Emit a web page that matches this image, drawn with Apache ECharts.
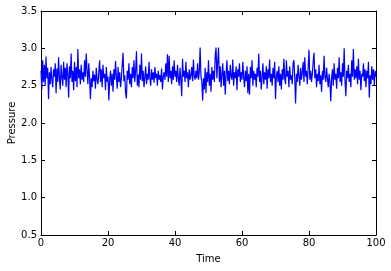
<!DOCTYPE html>
<html><head><meta charset="utf-8">
<script src="https://cdn.jsdelivr.net/npm/echarts@6/dist/echarts.min.js"></script>
<style>html,body{margin:0;padding:0;background:#fff}#c{width:391px;height:271px}</style>
</head><body><div id="c"></div>
<script>
const timeStart = 0;
const timeStep = 0.25;
const pressure = [
2.70,2.45,2.84,2.55,2.78,2.50,2.89,2.60,2.74,2.32,2.68,2.52,2.75,2.58,2.48,2.72,2.62,2.80,2.40,2.73,2.55,2.88,2.60,2.45,2.78,2.62,2.50,2.82,2.58,2.74,2.48,2.80,2.66,2.34,2.76,2.60,2.93,2.55,2.70,2.44,
2.82,2.56,2.75,2.48,2.99,2.60,2.72,2.52,2.78,2.58,2.68,2.55,2.84,2.62,2.93,2.70,2.52,2.80,2.62,2.32,2.60,2.48,2.70,2.56,2.65,2.46,2.74,2.58,2.52,2.68,2.84,2.55,2.72,2.48,2.78,2.60,2.66,2.44,2.75,2.55,
2.62,2.30,2.58,2.70,2.50,2.66,2.42,2.72,2.58,2.83,2.62,2.46,2.75,2.55,2.68,2.48,2.60,2.78,2.94,2.56,2.64,2.40,2.33,2.70,2.58,2.80,2.52,2.66,2.48,2.75,2.60,2.84,2.55,2.70,2.96,2.50,2.65,2.48,2.78,2.58,
2.93,2.56,2.70,2.48,2.62,2.76,2.52,2.66,2.58,2.82,2.60,2.50,2.72,2.58,2.68,2.54,2.75,2.60,2.66,2.50,2.70,2.58,2.64,2.55,2.73,2.45,2.62,2.68,2.58,2.80,2.62,2.92,2.55,2.90,2.60,2.70,2.52,2.76,2.58,2.84,
2.62,2.70,2.55,2.78,2.60,2.50,2.74,2.58,2.36,2.86,2.62,2.70,2.55,2.82,2.60,2.68,2.48,2.72,2.58,2.64,2.75,2.56,2.85,2.62,2.58,2.70,2.60,2.80,2.58,2.68,3.01,2.62,2.56,2.30,2.60,2.45,2.74,2.40,2.68,2.55,
2.84,2.50,2.66,2.42,2.75,2.58,2.70,2.55,2.90,3.01,2.60,2.82,3.01,2.55,2.76,2.48,2.65,2.80,2.50,2.70,2.38,2.66,2.84,2.56,2.70,2.52,2.78,2.62,2.58,2.85,2.50,2.68,2.60,2.76,2.44,2.72,2.62,2.80,2.55,2.68,
2.58,2.82,2.62,2.48,2.70,2.56,2.76,2.40,2.66,2.38,2.75,2.60,2.84,2.50,2.70,2.58,2.66,2.48,2.74,2.62,2.93,2.55,2.70,2.45,2.62,2.80,2.52,2.68,2.58,2.76,2.46,2.72,2.60,2.85,2.55,2.66,2.50,2.74,2.60,2.82,
2.32,2.62,2.70,2.55,2.76,2.50,2.66,2.45,2.72,2.58,2.86,2.60,2.52,2.84,2.62,2.70,2.48,2.76,2.58,2.64,2.52,2.80,2.84,2.60,2.26,2.66,2.55,2.78,2.62,2.50,2.74,2.58,2.68,2.82,2.55,2.88,2.62,2.70,2.52,2.75,
2.98,2.58,2.70,2.55,2.66,2.82,2.94,2.60,2.72,2.48,2.66,2.56,2.78,2.52,2.64,2.42,2.70,2.58,2.90,2.62,2.55,2.74,2.60,2.48,2.66,2.54,2.29,2.60,2.72,2.50,2.80,2.58,2.66,2.46,2.74,2.60,2.88,2.55,2.68,2.50,
2.80,2.62,3.00,2.56,2.36,2.70,2.60,2.78,2.55,2.66,2.48,2.84,2.62,2.99,2.58,2.72,2.60,2.76,2.52,2.86,2.58,2.70,2.44,2.66,2.62,2.80,2.56,2.72,2.48,2.70,2.60,2.82,2.34,2.64,2.52,2.76,2.58,2.72,2.50,2.70,
2.62
];
const xTicks = [0, 20, 40, 60, 80, 100];
const yTicks = [0.5, 1.0, 1.5, 2.0, 2.5, 3.0, 3.5];

const seriesData = pressure.map((v, i) => [timeStart + i * timeStep, v]);
const font = 'DejaVu Sans';
const axisCommon = {
  axisLine: {show: true, onZero: false, lineStyle: {color: '#000', width: 1}},
  axisTick: {show: true, inside: true, length: 4, lineStyle: {color: '#000'}},
  splitLine: {show: false}
};
const chart = echarts.init(document.getElementById('c'), null, {renderer: 'canvas'});
chart.setOption({
  animation: false,
  backgroundColor: '#fff',
  grid: {left: 41, right: 15, top: 11, bottom: 36, containLabel: false, outerBoundsMode: 'none'},
  xAxis: [
    Object.assign({}, axisCommon, {
      type: 'value', min: xTicks[0], max: xTicks[xTicks.length - 1], interval: 20,
      name: 'Time', nameLocation: 'middle', nameGap: 19, nameMoveOverlap: false,
      nameTextStyle: {fontFamily: font, fontSize: 10, color: '#000'},
      axisLabel: {fontFamily: font, fontSize: 10, color: '#000', margin: 3}
    }),
    Object.assign({}, axisCommon, {
      type: 'value', position: 'top', min: xTicks[0], max: xTicks[xTicks.length - 1], interval: 20,
      axisLabel: {show: false}
    })
  ],
  yAxis: [
    Object.assign({}, axisCommon, {
      type: 'value', min: yTicks[0], max: yTicks[yTicks.length - 1], interval: 0.5,
      name: 'Pressure', nameLocation: 'middle', nameGap: 24, nameMoveOverlap: false,
      nameTextStyle: {fontFamily: font, fontSize: 10, color: '#000'},
      axisLabel: {fontFamily: font, fontSize: 10, color: '#000', margin: 4, formatter: v => v.toFixed(1)}
    }),
    Object.assign({}, axisCommon, {
      type: 'value', position: 'right', min: yTicks[0], max: yTicks[yTicks.length - 1], interval: 0.5,
      axisLabel: {show: false}
    })
  ],
  series: [{
    type: 'line', data: seriesData, xAxisIndex: 0, yAxisIndex: 0,
    showSymbol: false, symbol: 'none', sampling: null,
    lineStyle: {color: '#0000ff', width: 1.2}
  }]
});
</script></body></html>
